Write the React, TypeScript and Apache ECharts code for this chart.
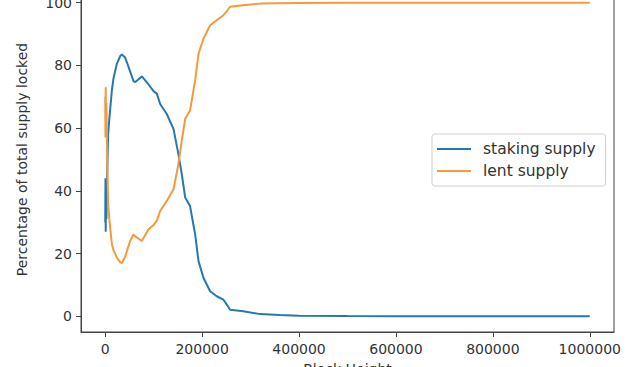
import React, { useEffect, useRef } from "react";
import * as echarts from "echarts";

const blockHeights = [
  0, 500, 1000, 1500, 2500, 4000, 6000, 9000, 13700, 17200, 24000, 31000, 34400,
  41000, 44700, 51500, 58400, 62000, 75600, 89000, 99700, 106500, 113400, 127000,
  141000, 151000, 158000, 165000, 175000, 185600, 192500, 202700, 216500, 230000,
  244000, 252000, 257700, 285000, 319600, 360000, 400000, 500000, 600000, 700000,
  800000, 900000, 1000000,
];

const stakingSupply = [
  30, 44, 27, 38, 31, 45, 58, 64, 72, 76, 80.5, 83, 83.5,
  82.5, 81, 78, 75, 74.7, 76.5, 74, 71.8, 71, 67.7, 64.5,
  59.7, 51.7, 45.3, 37.9, 35.2, 26.1, 17.6, 12.3, 8, 6.4,
  5.3, 3.5, 2.1, 1.6, 0.7, 0.4, 0.2, 0.1, 0.05, 0.03,
  0.02, 0.01, 0,
];

const lentSupply = [
  70, 57, 73, 60, 68, 50, 36, 30, 23, 21, 18.7, 17.2, 17,
  19, 20.8, 24, 26.1, 25.5, 24, 27.7, 29.1, 30.5, 33.6, 36.8,
  40.5, 48.5, 56, 63, 65.6, 75.2, 83.7, 88.5, 92.8, 94.4,
  96, 97.5, 98.7, 99.2, 99.7, 99.8, 99.9, 99.95, 99.97, 99.98,
  99.99, 100, 100,
];

const xTicks = [0, 200000, 400000, 600000, 800000, 1000000];
const yTicks = [0, 20, 40, 60, 80, 100];

const seriesNames = ["staking supply", "lent supply"];
const seriesColors = ["#2878b0", "#f39a3c"];

export default function App() {
  const ref = useRef<HTMLDivElement>(null);

  useEffect(() => {
    if (!ref.current) return;
    const chart = echarts.init(ref.current, null, { renderer: "svg" });
    const font = "DejaVu Sans";
    const textColor = "#333";
    const axisColor = "#444";
    chart.setOption({
      animation: false,
      backgroundColor: "#fff",
      grid: {
        left: 81,
        right: 26,
        top: -13,
        bottom: 35,
        containLabel: false,
        outerBoundsMode: "none",
        show: true,
        borderColor: axisColor,
        borderWidth: 1,
        backgroundColor: "transparent",
      },
      legend: {
        orient: "vertical",
        left: 432,
        top: 134,
        padding: [7, 10, 7, 5],
        itemWidth: 34,
        itemHeight: 2,
        itemGap: 6,
        icon: "rect",
        borderColor: "#d0d0d0",
        borderWidth: 1,
        borderRadius: 3,
        backgroundColor: "#fff",
        textStyle: {
          fontFamily: font,
          fontSize: 15.5,
          color: textColor,
          padding: [0, 0, 0, 7],
        },
        data: seriesNames,
      },
      xAxis: {
        type: "value",
        min: -50000,
        max: 1050000,
        name: "Block Height",
        nameLocation: "middle",
        nameGap: 30,
        nameTextStyle: { fontFamily: font, fontSize: 14, color: textColor },
        axisLine: { show: true, onZero: false, lineStyle: { color: axisColor, width: 1 } },
        axisTick: {
          show: true,
          length: 5,
          customValues: xTicks,
          lineStyle: { color: axisColor },
        },
        axisLabel: {
          customValues: xTicks,
          margin: 10,
          fontFamily: font,
          fontSize: 14,
          color: textColor,
          formatter: (v: number) => String(v),
        },
        splitLine: { show: false },
      },
      yAxis: {
        type: "value",
        min: -5,
        max: 105,
        name: "Percentage of total supply locked",
        nameLocation: "middle",
        nameGap: 52,
        nameTextStyle: { fontFamily: font, fontSize: 14, color: textColor },
        axisLine: { show: true, onZero: false, lineStyle: { color: axisColor, width: 1 } },
        axisTick: {
          show: true,
          length: 5,
          customValues: yTicks,
          lineStyle: { color: axisColor },
        },
        axisLabel: {
          customValues: yTicks,
          margin: 9,
          fontFamily: font,
          fontSize: 14,
          color: textColor,
          formatter: (v: number) => String(v),
        },
        splitLine: { show: false },
      },
      series: [
        {
          name: seriesNames[0],
          type: "line",
          data: blockHeights.map((x, i) => [x, stakingSupply[i]]),
          showSymbol: false,
          symbol: "none",
          lineStyle: { color: seriesColors[0], width: 2 },
          itemStyle: { color: seriesColors[0] },
          z: 2,
        },
        {
          name: seriesNames[1],
          type: "line",
          data: blockHeights.map((x, i) => [x, lentSupply[i]]),
          showSymbol: false,
          symbol: "none",
          lineStyle: { color: seriesColors[1], width: 2 },
          itemStyle: { color: seriesColors[1] },
          z: 3,
        },
      ],
    });
    return () => chart.dispose();
  }, []);

  return (
    <div
      ref={ref}
      style={{ position: "fixed", left: 0, top: 0, width: 640, height: 367, background: "#fff" }}
    />
  );
}
